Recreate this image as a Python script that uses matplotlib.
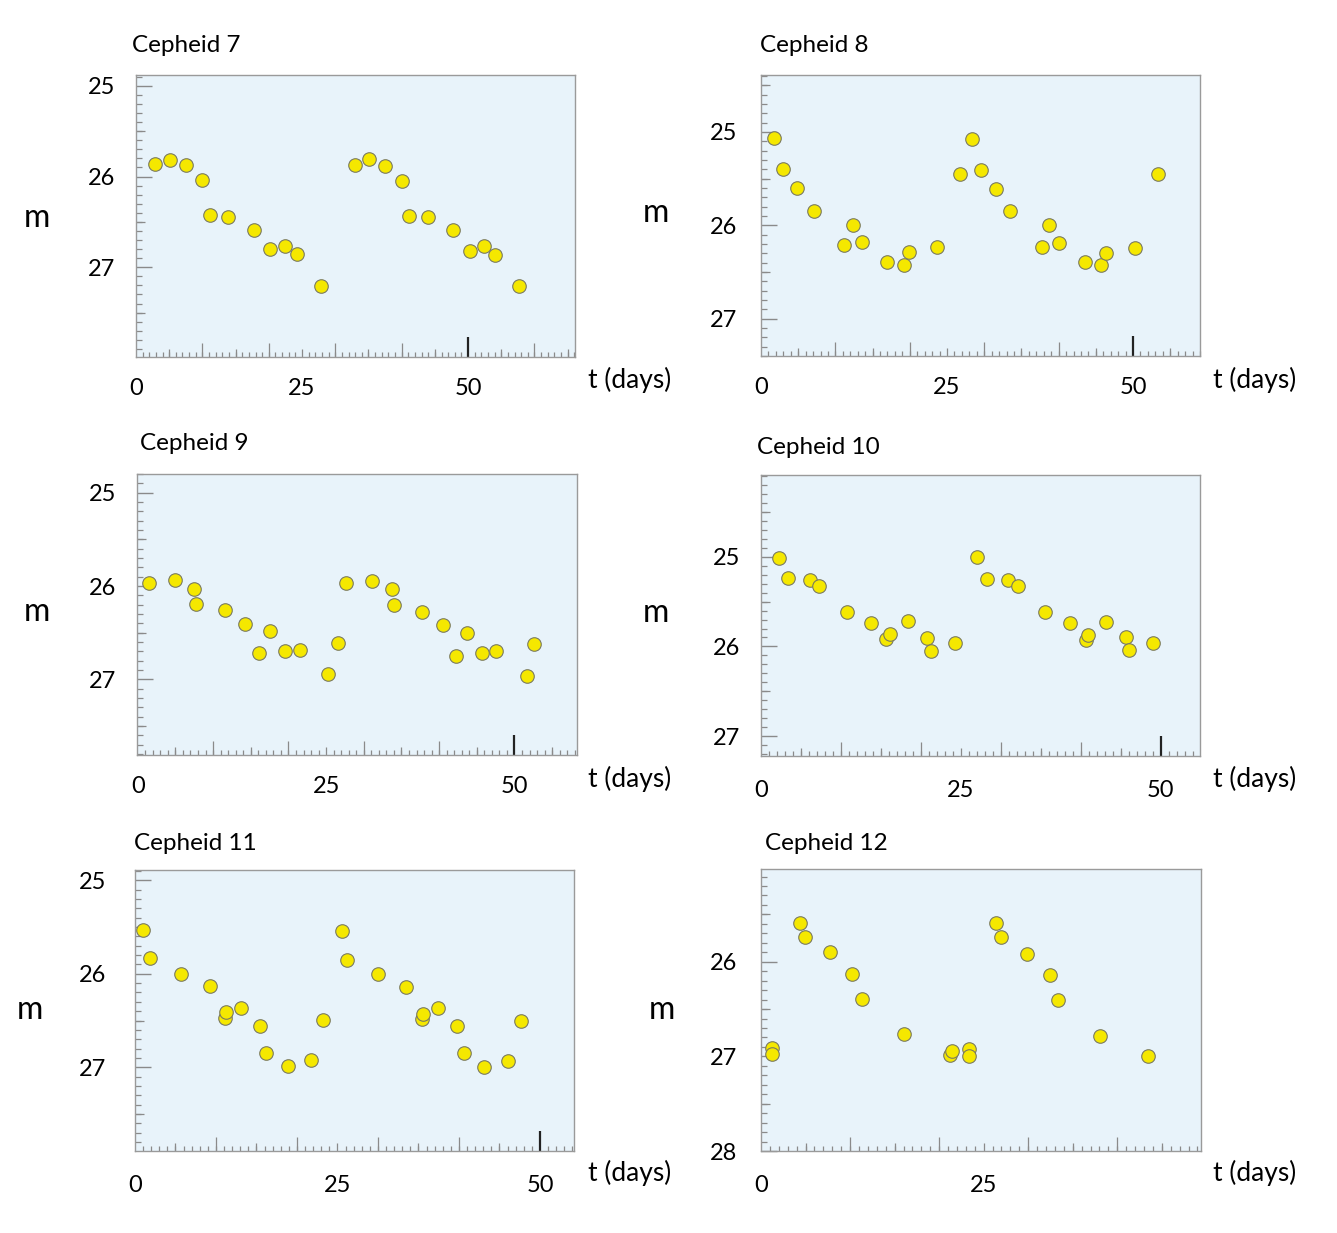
import matplotlib
matplotlib.use('Agg')
import matplotlib.pyplot as plt
from matplotlib.ticker import MultipleLocator, FixedLocator
import numpy as np

plt.rcParams['font.family'] = ['Lato', 'DejaVu Sans']

# ---- data: time (days) and apparent magnitude ----
t7 = [2.8, 5.1, 7.5, 9.9, 11.1, 13.9, 17.8, 20.2, 22.5, 24.2, 27.9,
      32.9, 35.1, 37.5, 40.0, 41.1, 44.0, 47.8, 50.3, 52.4, 54.1, 57.7]
m7 = [25.86, 25.82, 25.87, 26.04, 26.42, 26.45, 26.59, 26.80, 26.77, 26.85, 27.21,
      25.87, 25.81, 25.88, 26.05, 26.43, 26.45, 26.59, 26.82, 26.77, 26.86, 27.21]

t8 = [1.7, 3.0, 4.9, 7.1, 11.2, 12.3, 13.6, 17.0, 19.2, 19.9, 23.6, 26.8,
      28.4, 29.5, 31.6, 33.5, 37.7, 38.7, 40.1, 43.6, 45.7, 46.4, 50.2, 53.4]
m8 = [25.06, 25.40, 25.60, 25.85, 26.21, 26.00, 26.18, 26.39, 26.42, 26.29, 26.23, 25.45,
      25.08, 25.41, 25.61, 25.85, 26.23, 26.00, 26.19, 26.39, 26.43, 26.30, 26.24, 25.45]

t9 = [1.5, 4.9, 7.4, 7.7, 11.6, 14.3, 16.1, 17.5, 19.5, 21.5, 25.3, 26.6,
      27.7, 31.1, 33.7, 34.0, 37.7, 40.5, 42.2, 43.7, 45.7, 47.5, 51.7, 52.6]
m9 = [25.97, 25.94, 26.03, 26.19, 26.26, 26.41, 26.72, 26.48, 26.70, 26.69, 26.94, 26.61,
      25.97, 25.95, 26.03, 26.20, 26.28, 26.42, 26.75, 26.50, 26.72, 26.70, 26.96, 26.62]

t10 = [2.2, 3.4, 6.1, 7.3, 10.8, 13.8, 15.6, 16.1, 18.4, 20.7, 21.2, 24.2,
       27.0, 28.3, 30.9, 32.1, 35.5, 38.6, 40.6, 40.9, 43.2, 45.6, 46.0, 49.0]
m10 = [25.01, 25.24, 25.26, 25.33, 25.62, 25.74, 25.92, 25.86, 25.72, 25.91, 26.05, 25.96,
       25.00, 25.25, 25.26, 25.33, 25.62, 25.74, 25.93, 25.87, 25.73, 25.90, 26.04, 25.96]

t11 = [1.0, 1.9, 5.7, 9.2, 11.1, 11.2, 13.1, 15.4, 16.2, 18.9, 21.7, 23.2,
       25.6, 26.2, 30.0, 33.5, 35.4, 35.5, 37.4, 39.8, 40.6, 43.1, 46.1, 47.7]
m11 = [25.53, 25.83, 26.00, 26.13, 26.47, 26.41, 26.37, 26.56, 26.85, 26.99, 26.92, 26.49,
       25.54, 25.85, 26.00, 26.14, 26.48, 26.43, 26.37, 26.56, 26.85, 27.00, 26.93, 26.50]

t12 = [1.2, 1.2, 4.4, 4.9, 7.7, 10.2, 11.3, 16.0, 21.2, 21.5,
       23.4, 23.4, 26.4, 27.0, 29.9, 32.4, 33.4, 38.1, 43.4]
m12 = [26.91, 26.98, 25.59, 25.74, 25.90, 26.13, 26.39, 26.76, 26.99, 26.94,
       26.92, 27.00, 25.59, 25.74, 25.92, 26.14, 26.40, 26.79, 27.00]

names = ['Cepheid 7', 'Cepheid 8', 'Cepheid 9', 'Cepheid 10', 'Cepheid 11', 'Cepheid 12']
times = [t7, t8, t9, t10, t11, t12]
mags = [m7, m8, m9, m10, m11, m12]
xlims = [(0, 66.1), (0, 59.0), (-0.1, 58.3), (0, 54.9), (0, 54.2), (0, 49.4)]
ylims = [(27.99, 24.88), (27.40, 24.39), (27.81, 24.80), (27.22, 24.09), (27.895, 24.89), (28.0, 25.02)]
yticks = [[25, 26, 27]] * 5 + [[26, 27, 28]]

W, H = 1337, 1233
# axes boxes in pixels: left, top, right, bottom
boxes = [(136, 75, 575, 357), (761, 75, 1200, 356),
         (137, 474, 577, 755), (761, 475, 1200, 756),
         (135, 870, 574, 1151), (761, 869, 1201, 1151)]
title_pos = [(132, 45), (760, 45), (140, 443), (757, 447), (134, 843), (765, 843)]
m_pos = [(37, 218), (656, 213), (37, 612), (656, 613), (30, 1010), (662, 1010)]
t_pos = [(588, 380), (1213, 380), (588, 779), (1213, 779), (588, 1173), (1213, 1173)]
ypads = [15, 17, 15, 15, 21, 17]
xpads = [15, 15, 15, 17, 17, 17]

bg = '#e8f3fa'
tick_c = '#8a8a8a'

fig = plt.figure(figsize=(W / 100, H / 100), dpi=100)


def fx(x):
    return x / W


def fy(y):
    return 1 - y / H


for i in range(6):
    l, t, r, b = boxes[i]
    ax = fig.add_axes([fx(l), fy(b), (r - l) / W, (b - t) / H])
    ax.set_facecolor(bg)
    for s in ax.spines.values():
        s.set_color('#9a9a9a')
        s.set_linewidth(1.0)
    ax.scatter(times[i], mags[i], s=95, c='#f5e800', edgecolors='#7a7a60',
               linewidths=0.8, zorder=5, clip_on=False)
    ax.set_xlim(*xlims[i])
    ax.set_ylim(*ylims[i])

    # x axis: labels at 0, 25, 50, ticks every day
    ax.xaxis.set_major_locator(FixedLocator([0, 25, 50]))
    ax.xaxis.set_minor_locator(MultipleLocator(1))
    ax.tick_params(axis='x', which='major', length=0, pad=xpads[i], labelsize=17)
    ax.tick_params(axis='x', which='minor', direction='in', length=3.3,
                   width=0.9, color=tick_c)
    # y axis: labels at integers, ticks every 0.1
    ax.yaxis.set_major_locator(FixedLocator(yticks[i]))
    ax.yaxis.set_minor_locator(MultipleLocator(0.1))
    ax.tick_params(axis='y', which='major', direction='in', length=11.5,
                   width=1.0, color=tick_c, pad=ypads[i], labelsize=17)
    ax.tick_params(axis='y', which='minor', direction='in', length=4.3,
                   width=0.9, color=tick_c)

    hpx = b - t
    wpx = r - l
    x0, x1 = ax.get_xlim()
    xt = ax.get_xaxis_transform()
    fives = [v for v in np.arange(5, x1, 5) if v % 10 != 0]
    tens = [v for v in np.arange(10, x1, 10) if v != 50]
    ax.vlines(fives, 0, 8 / hpx, transform=xt, color=tick_c, lw=0.9)
    ax.vlines(tens, 0, 14 / hpx, transform=xt, color=tick_c, lw=0.9)
    if x1 > 50:
        ax.vlines([50], 0, 20 / hpx, transform=xt, color='#222222', lw=1.6)
    y0, y1 = ax.get_ylim()
    yt = ax.get_yaxis_transform()
    halves = [v + 0.5 for v in range(24, 28) if min(y0, y1) < v + 0.5 < max(y0, y1)]
    ax.hlines(halves, 0, 9 / wpx, transform=yt, color=tick_c, lw=0.9)

    fig.text(fx(title_pos[i][0]), fy(title_pos[i][1]), names[i],
             fontsize=17.5, ha='left', va='center')
    fig.text(fx(m_pos[i][0]), fy(m_pos[i][1]), 'm', fontsize=23,
             ha='center', va='center')
    fig.text(fx(t_pos[i][0]), fy(t_pos[i][1]), 't (days)', fontsize=19,
             ha='left', va='center')

fig.savefig('out.png', dpi=100)
